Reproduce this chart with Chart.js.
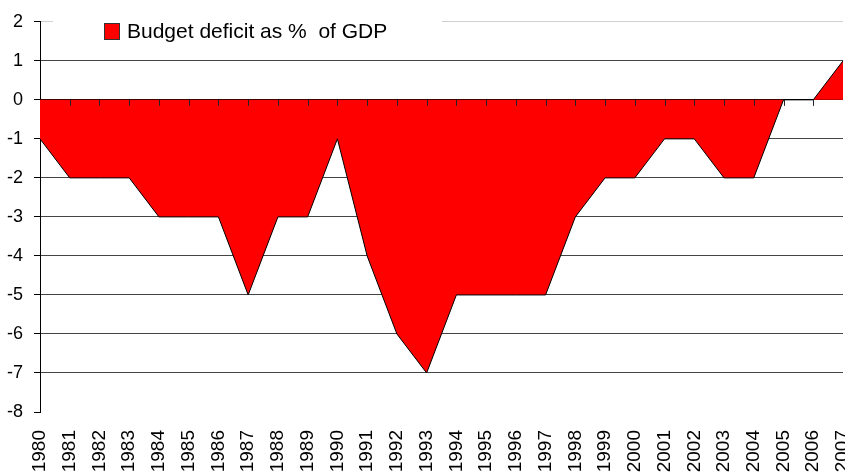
<!DOCTYPE html>
<html>
<head>
<meta charset="utf-8">
<script src="https://cdn.jsdelivr.net/npm/chart.js@4"></script>
<style>
    html, body { margin: 0; padding: 0; background: #fff; overflow: hidden; }
    #wrap { position: relative; width: 845px; height: 472px; }
</style>
</head>
<body>
<div id="wrap"><canvas id="deficit-chart"></canvas></div>
<script>
const years = ['1980', '1981', '1982', '1983', '1984', '1985', '1986', '1987', '1988', '1989',
    '1990', '1991', '1992', '1993', '1994', '1995', '1996', '1997', '1998', '1999',
    '2000', '2001', '2002', '2003', '2004', '2005', '2006', '2007'];
const deficit = [-1, -2, -2, -2, -3, -3, -3, -5, -3, -3,
    -1, -4, -6, -7, -5, -5, -5, -5, -3, -2,
    -2, -1, -1, -2, -2, 0, 0, 1];
const seriesLabel = 'Budget deficit as %  of GDP';
const yMin = -8;
const yMax = 2;

const FONT = '"Liberation Sans", Arial, sans-serif';

// small tick marks hanging from the zero line, like the original
const zeroTicks = {
    id: 'zeroTicks',
    afterDatasetsDraw(chart) {
        const ctx = chart.ctx;
        const x = chart.scales.x;
        const y0 = chart.scales.y.getPixelForValue(0);
        ctx.save();
        ctx.strokeStyle = '#222';
        ctx.lineWidth = 1;
        ctx.beginPath();
        for (let i = 1; i < years.length - 1; i++) {
            const px = Math.round(x.getPixelForTick(i)) + 0.5;
            ctx.moveTo(px, y0);
            ctx.lineTo(px, y0 + 6);
        }
        ctx.stroke();
        ctx.restore();
    }
};

// legend box sitting inside the plot at the top
const boxLegend = {
    id: 'boxLegend',
    afterDatasetsDraw(chart) {
        const ctx = chart.ctx;
        ctx.save();
        ctx.fillStyle = '#fff';
        ctx.fillRect(53, 4, 389, 40);
        ctx.fillStyle = '#ff0000';
        ctx.fillRect(104, 23, 16, 17);
        ctx.strokeStyle = '#333';
        ctx.lineWidth = 1;
        ctx.strokeRect(104.5, 23.5, 15, 16);
        ctx.fillStyle = '#000';
        ctx.font = '21px ' + FONT;
        ctx.textBaseline = 'middle';
        ctx.textAlign = 'left';
        ctx.fillText(seriesLabel, 127, 32);
        ctx.restore();
    }
};

new Chart(document.getElementById('deficit-chart'), {
    type: 'line',
    data: {
        labels: years,
        datasets: [{
            label: seriesLabel,
            data: deficit,
            fill: 'origin',
            backgroundColor: '#ff0000',
            borderColor: '#000',
            borderWidth: 1,
            tension: 0,
            pointRadius: 0,
            pointHoverRadius: 0
        }]
    },
    options: {
        responsive: true,
        maintainAspectRatio: false,
        animation: false,
        events: [],
        layout: { padding: { top: 21, right: 2, left: 0, bottom: 0 } },
        plugins: {
            legend: { display: false },
            tooltip: { enabled: false }
        },
        scales: {
            x: {
                offset: false,
                grid: { display: false, drawTicks: false },
                border: { display: false },
                ticks: {
                    autoSkip: false,
                    minRotation: 90,
                    maxRotation: 90,
                    padding: 18,
                    color: '#000',
                    font: { family: FONT, size: 19 }
                },
                afterFit(scale) {
                    scale.height = 60;
                    scale.paddingLeft = 0;
                    scale.paddingRight = 0;
                }
            },
            y: {
                min: yMin,
                max: yMax,
                grid: {
                    color: ctx => {
                        const v = ctx.tick && ctx.tick.value;
                        if (v === yMax) return '#d0d0d0';
                        if (v === yMin) return 'rgba(0,0,0,0)';
                        if (v === 0) return '#000';
                        return '#444';
                    },
                    tickColor: '#000',
                    tickLength: 6,
                    lineWidth: 1
                },
                border: { display: true, color: '#000', width: 1 },
                ticks: {
                    stepSize: 1,
                    padding: 11,
                    color: '#000',
                    font: { family: FONT, size: 18 }
                },
                afterFit(scale) {
                    scale.width = 40;
                }
            }
        }
    },
    plugins: [zeroTicks, boxLegend]
});
</script>
</body>
</html>
